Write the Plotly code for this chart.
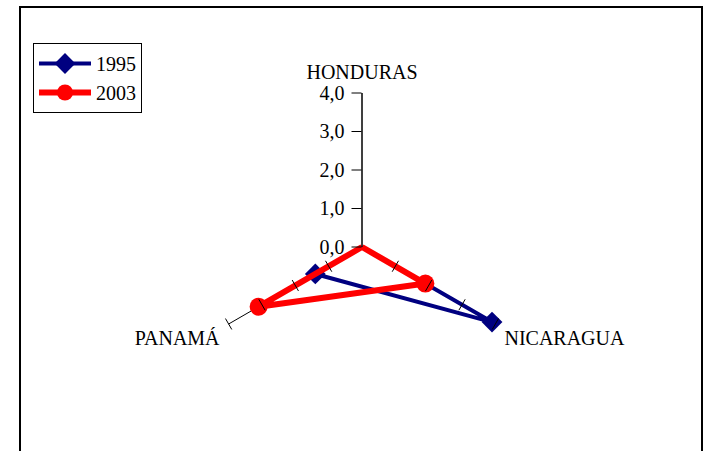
import plotly.graph_objects as go

categories = ["HONDURAS", "NICARAGUA", "PANAMÁ"]
values_1995 = [0.0, 3.9, 1.4]
values_2003 = [0.0, 1.9, 3.1]
tick_vals = [0, 1, 2, 3, 4]
tick_text = ["0,0", "1,0", "2,0", "3,0", "4,0"]

W, H = 709, 451
cx, cy, R = 362, 247, 154
SERIF = "Liberation Serif"

def closed(v):
    return v + v[:1]

fig = go.Figure()

fig.add_trace(go.Scatterpolar(
    r=closed(values_1995), theta=closed(categories), name="1995",
    mode="lines+markers", legendgroup="a",
    line=dict(color="#000080", width=4),
    marker=dict(symbol="diamond", size=16, color="#000080")))
fig.add_trace(go.Scatterpolar(
    r=closed(values_2003), theta=closed(categories), name="2003",
    mode="lines+markers", legendgroup="b",
    line=dict(color="#ff0000", width=6),
    marker=dict(symbol="circle", size=18, color="#ff0000")))

# small tick marks on the secondary spokes
for cat, ang in [("NICARAGUA", 30), ("PANAMÁ", -30)]:
    fig.add_trace(go.Scatterpolar(
        r=tick_vals[1:], theta=[cat] * 4, mode="markers",
        marker=dict(symbol="line-ns", size=9, angle=ang,
                    line=dict(color="black", width=1)),
        showlegend=False, hoverinfo="skip"))

fig.update_layout(
    width=W, height=H,
    margin=dict(l=0, r=0, t=0, b=0, autoexpand=False),
    paper_bgcolor="white",
    font=dict(family=SERIF, size=20, color="black"),
    separators=",.",
    polar=dict(
        domain=dict(x=[(cx - R) / W, (cx + R) / W],
                    y=[(H - cy - R) / H, (H - cy + R) / H]),
        bgcolor="rgba(0,0,0,0)",
        gridshape="linear",
        radialaxis=dict(range=[0, 4], tickvals=tick_vals, ticktext=tick_text,
                        angle=90, tickangle=90, showgrid=False,
                        showline=True, linecolor="black", linewidth=1,
                        ticks="outside", ticklen=10, tickcolor="black",
                        side="counterclockwise",
                        tickfont=dict(family=SERIF, size=20)),
        angularaxis=dict(rotation=90, direction="clockwise",
                         categoryorder="array", categoryarray=categories,
                         showline=False, showgrid=True, gridcolor="black",
                         gridwidth=1, ticks="outside", ticklen=6,
                         tickcolor="rgba(0,0,0,0)",
                         tickfont=dict(family=SERIF, size=20)),
    ),
    legend=dict(x=33 / W, y=1 - 43 / H, xanchor="left", yanchor="top",
                bordercolor="black", borderwidth=1, bgcolor="white",
                font=dict(family=SERIF, size=20), tracegroupgap=0,
                itemwidth=52),
    shapes=[dict(type="rect", xref="paper", yref="paper",
                 x0=20 / W, x1=702 / W, y0=-0.05, y1=1 - 7 / H,
                 line=dict(color="black", width=2))],
)

fig.write_html("out.html", config={"displayModeBar": False},
               post_script="document.body.style.margin='0';document.body.style.padding='0';")
